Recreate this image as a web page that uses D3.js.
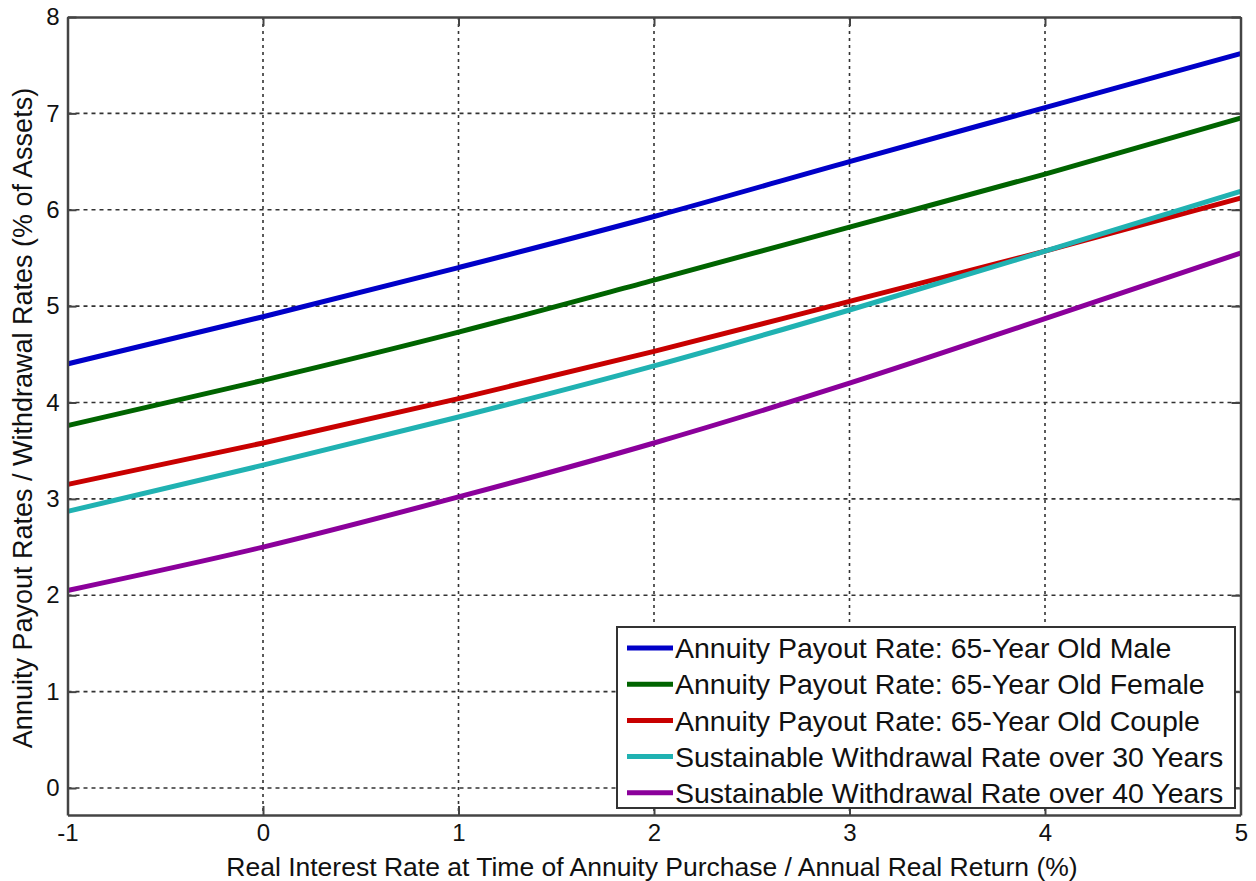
<!DOCTYPE html>
<html>
<head>
<meta charset="utf-8">
<script src="https://cdn.jsdelivr.net/npm/d3@7"></script>
<style>
  body { margin: 0; background: #fff; }
  text { font-family: "Liberation Sans", Arial, sans-serif; fill: #111; }
</style>
</head>
<body>
<div id="chart"></div>
<script>
// real interest rate (%) at each sampled point
var rates = [-1, 0, 1, 2, 3, 4, 5];

var malePayout = [4.40, 4.89, 5.40, 5.93, 6.50, 7.06, 7.62];
var femalePayout = [3.76, 4.23, 4.73, 5.27, 5.82, 6.37, 6.95];
var couplePayout = [3.15, 3.58, 4.04, 4.53, 5.05, 5.57, 6.12];
var withdraw30 = [2.87, 3.35, 3.85, 4.38, 4.96, 5.57, 6.19];
var withdraw40 = [2.05, 2.50, 3.02, 3.58, 4.20, 4.87, 5.55];

var seriesNames = [
    "Annuity Payout Rate: 65-Year Old Male",
    "Annuity Payout Rate: 65-Year Old Female",
    "Annuity Payout Rate: 65-Year Old Couple",
    "Sustainable Withdrawal Rate over 30 Years",
    "Sustainable Withdrawal Rate over 40 Years"
];
var seriesColors = ["#0000c8", "#006400", "#c80000", "#20b2b2", "#8b009b"];
var seriesValues = [malePayout, femalePayout, couplePayout, withdraw30, withdraw40];

var xTicks = [-1, 0, 1, 2, 3, 4, 5];
var yTicks = [0, 1, 2, 3, 4, 5, 6, 7, 8];

var width = 1256, height = 881;
var plotLeft = 67.5, plotRight = 1240.5, plotTop = 17, plotBottom = 815;

var svg = d3.select("#chart").append("svg")
        .attr("width", width)
        .attr("height", height);

var x = d3.scaleLinear().domain([-1, 5]).range([plotLeft, plotRight]);
var y = d3.scaleLinear().domain([-0.28, 8]).range([plotBottom, plotTop]);

// grid
var grid = svg.append("g").attr("class", "grid");
grid.selectAll("line.gx")
    .data(xTicks.slice(1, -1))
    .enter().append("line")
    .attr("x1", function (d) { return x(d); })
    .attr("x2", function (d) { return x(d); })
    .attr("y1", plotTop).attr("y2", plotBottom)
    .attr("stroke", "#333").attr("stroke-width", 1.6)
    .attr("stroke-dasharray", "3,4");
grid.selectAll("line.gy")
    .data(yTicks.slice(0, -1))
    .enter().append("line")
    .attr("y1", function (d) { return y(d); })
    .attr("y2", function (d) { return y(d); })
    .attr("x1", plotLeft).attr("x2", plotRight)
    .attr("stroke", "#333").attr("stroke-width", 1.6)
    .attr("stroke-dasharray", "4,4");

// series lines
var line = d3.line()
        .x(function (d, i) { return x(rates[i]); })
        .y(function (d) { return y(d); })
        .curve(d3.curveMonotoneX);

svg.append("g").selectAll("path")
    .data(seriesValues)
    .enter().append("path")
    .attr("d", line)
    .attr("fill", "none")
    .attr("stroke", function (d, i) { return seriesColors[i]; })
    .attr("stroke-width", 5);

// axes (ticks inward, box on all sides)
var fmt = function (d) { return String(d); };
var xAxis = d3.axisBottom(x).tickValues(xTicks).tickFormat(fmt).tickSizeInner(-9).tickSizeOuter(0).tickPadding(9);
var yAxis = d3.axisLeft(y).tickValues(yTicks).tickFormat(fmt).tickSizeInner(-9).tickSizeOuter(0).tickPadding(8);

var gx = svg.append("g")
        .attr("transform", "translate(0," + plotBottom + ")")
        .call(xAxis);
var gy = svg.append("g")
        .attr("transform", "translate(" + plotLeft + ",0)")
        .call(yAxis);
svg.append("g").attr("transform", "translate(0," + plotTop + ")")
    .call(d3.axisTop(x).tickValues(xTicks).tickSizeInner(-9).tickSizeOuter(0).tickFormat(""));
svg.append("g").attr("transform", "translate(" + plotRight + ",0)")
    .call(d3.axisRight(y).tickValues(yTicks).tickSizeInner(-9).tickSizeOuter(0).tickFormat(""));

svg.selectAll(".domain").attr("stroke", "#444").attr("stroke-width", 2.5);
svg.selectAll(".tick line").attr("stroke", "#444").attr("stroke-width", 2);
svg.selectAll(".tick text")
    .style("font-family", "'Liberation Sans', Arial, sans-serif")
    .style("font-size", "24px")
    .attr("fill", "#111");
gx.selectAll(".tick text").attr("dy", "0.71em");
gx.select(".tick:last-of-type text").attr("text-anchor", "end").attr("dx", "0.3em");

// axis labels
svg.append("text")
    .attr("x", (plotLeft + plotRight) / 2 - 2)
    .attr("y", 876)
    .attr("text-anchor", "middle")
    .style("font-size", "26.5px")
    .text("Real Interest Rate at Time of Annuity Purchase / Annual Real Return (%)");

svg.append("text")
    .attr("transform", "translate(32," + 418 + ") rotate(-90)")
    .attr("text-anchor", "middle")
    .style("font-size", "27px")
    .text("Annuity Payout Rates / Withdrawal Rates  (% of Assets)");

// legend
var legend = svg.append("g").attr("transform", "translate(617,627)");
legend.append("rect")
    .attr("width", 618).attr("height", 181)
    .attr("fill", "#fff")
    .attr("stroke", "#333").attr("stroke-width", 2);

var item = legend.selectAll("g.item")
        .data(seriesNames)
        .enter().append("g")
        .attr("transform", function (d, i) { return "translate(0," + (21 + i * 36.2) + ")"; });
item.append("line")
    .attr("x1", 10).attr("x2", 56)
    .attr("stroke", function (d, i) { return seriesColors[i]; })
    .attr("stroke-width", 5);
item.append("text")
    .attr("x", 58)
    .attr("dy", "0.36em")
    .style("font-size", "28.5px")
    .text(function (d) { return d; });
</script>
</body>
</html>
